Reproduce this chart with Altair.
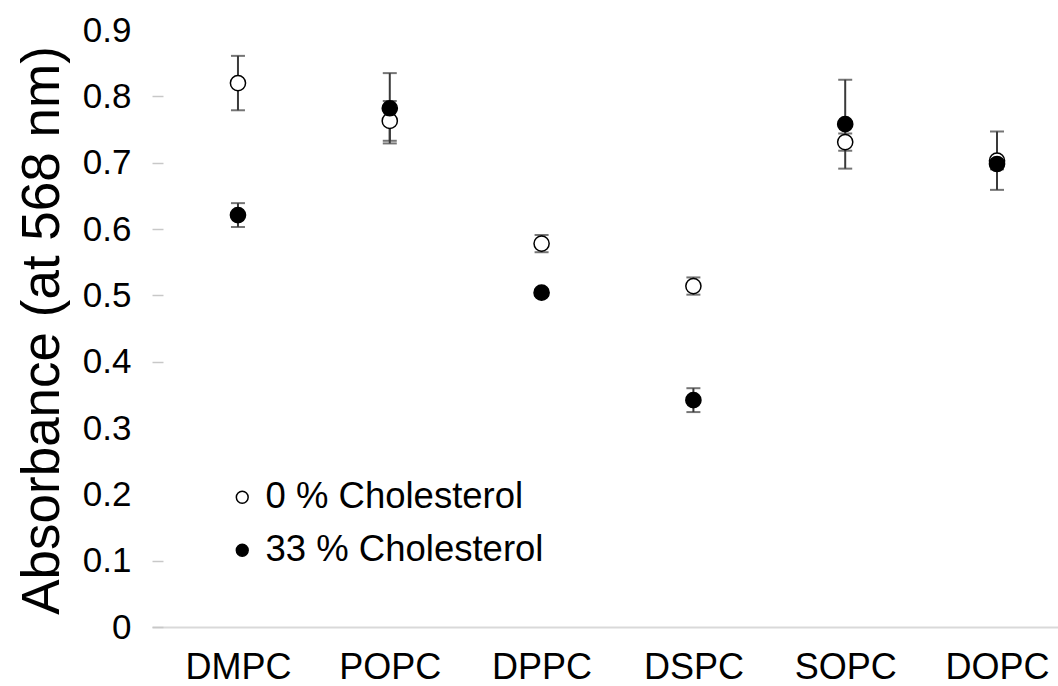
import altair as alt
import pandas as pd

lipids = ["DMPC", "POPC", "DPPC", "DSPC", "SOPC", "DOPC"]
series_names = ["0 % Cholesterol", "33 % Cholesterol"]
abs_0 = [0.820, 0.763, 0.578, 0.514, 0.731, 0.703]
err_0 = [0.041, 0.030, 0.013, 0.013, 0.013, 0.044]
abs_33 = [0.621, 0.782, 0.504, 0.342, 0.758, 0.698]
err_33 = [0.018, 0.053, 0.005, 0.018, 0.067, 0.008]
y_ticks = [0, 0.1, 0.2, 0.3, 0.4, 0.5, 0.6, 0.7, 0.8, 0.9]

rows = []
for name, vals, errs in [(series_names[0], abs_0, err_0), (series_names[1], abs_33, err_33)]:
    for lip, v, e in zip(lipids, vals, errs):
        rows.append({"lipid": lip, "series": name, "value": v, "err": e})
df = pd.DataFrame(rows)

FONT = "Liberation Sans"

x_enc = alt.X(
    "lipid:N",
    sort=lipids,
    scale=alt.Scale(type="point", padding=0.484, align=0.585),
    axis=alt.Axis(
        title=None, labelAngle=0, ticks=False, grid=False,
        domainColor="#d9d9d9", domainWidth=2,
        labelFontSize=36, labelFont=FONT, labelColor="#000000",
        labelPadding=23,
    ),
)

y_scale = alt.Scale(domain=[0, 0.9], nice=False, zero=True)

base = alt.Chart(df).transform_calculate(
    lo="datum.value - datum.err", hi="datum.value + datum.err"
)

rules = base.mark_rule(color="#3a3a3a", strokeWidth=2).encode(
    x=x_enc,
    y=alt.Y("lo:Q", scale=y_scale),
    y2="hi:Q",
)
cap_lo = base.mark_tick(color="#3a3a3a", thickness=2, size=14).encode(
    x=x_enc, y=alt.Y("lo:Q", scale=y_scale)
)
cap_hi = base.mark_tick(color="#3a3a3a", thickness=2, size=14).encode(
    x=x_enc, y=alt.Y("hi:Q", scale=y_scale)
)

points = base.mark_point(
    shape="circle", filled=True, size=230, stroke="#000000", strokeWidth=1.5, opacity=1
).encode(
    x=x_enc,
    y=alt.Y(
        "value:Q",
        scale=y_scale,
        axis=alt.Axis(
            title="Absorbance (at 568 nm)",
            values=y_ticks, format=".1~f", grid=False, domain=False,
            tickColor="#c8c8c8", tickWidth=1.5, tickSize=11,
            tickOpacity={"condition": {"test": "datum.value == 0.9 || datum.value == 0.3 || datum.value == 0.2", "value": 0}, "value": 1},
            offset=-11,
            labelFontSize=35, labelFont=FONT, labelColor="#000000", labelPadding=21,
            titleFontSize=53, titleFont=FONT, titleFontWeight="normal", titleColor="#000000",
            titleAngle=270, titleAlign="center", titleBaseline="alphabetic",
            titleX=-105, titleY=300,
        ),
    ),
    fill=alt.Fill(
        "series:N",
        scale=alt.Scale(domain=series_names, range=["#ffffff", "#000000"]),
        legend=alt.Legend(
            title=None, orient="none", legendX=72, legendY=449,
            symbolType="circle", symbolSize=140, symbolStrokeColor="#000000",
            symbolStrokeWidth=1.5, symbolOpacity=1,
            labelFontSize=36.5, labelFont=FONT, labelColor="#000000", labelLimit=0,
            labelOffset=5, rowPadding=16, padding=0,
        ),
    ),
    order=alt.Order("series:N"),
)

chart = alt.layer(rules, cap_lo, cap_hi, points).properties(
    width=906, height=597,
    autosize=alt.AutoSizeParams(type="none"),
    padding={"left": 152, "top": 30, "right": 0, "bottom": 59},
    background="#ffffff",
).configure_view(stroke=None)

chart.save("out.html", embed_options={"renderer": "svg", "actions": False})
